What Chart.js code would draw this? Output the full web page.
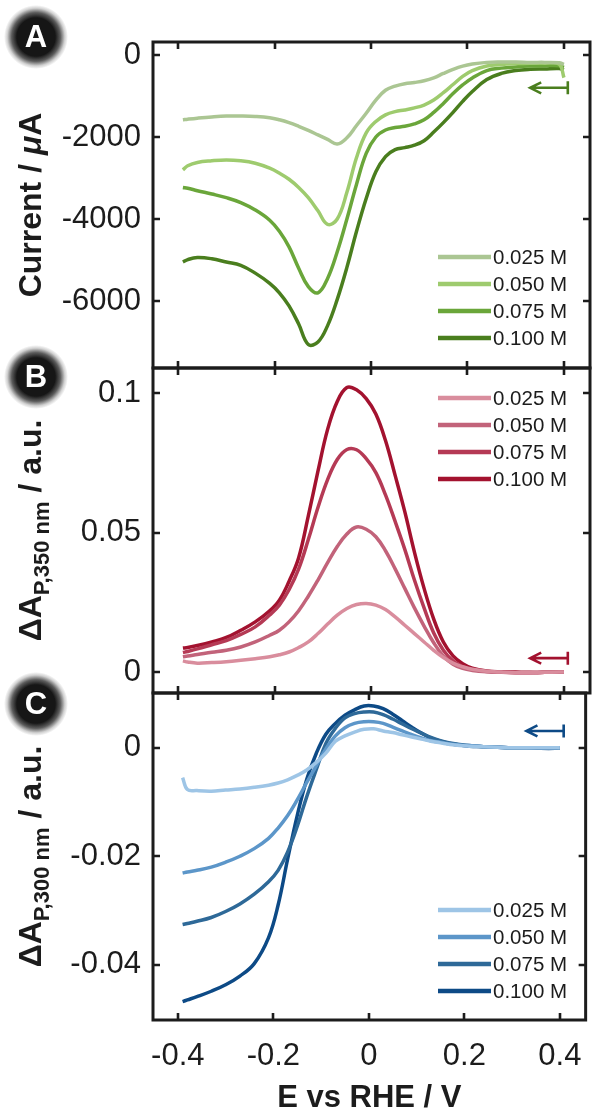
<!DOCTYPE html>
<html>
<head>
<meta charset="utf-8">
<script src="https://cdn.jsdelivr.net/npm/chart.js@4.4.1/dist/chart.umd.min.js"></script>
<style>
html,body{margin:0;padding:0;background:#fff;}
#wrap{position:relative;width:600px;height:1114px;background:#fff;overflow:hidden;}
#wrap canvas{position:absolute;left:0;top:0;}
</style>
</head>
<body>
<div id="wrap">
<canvas id="cA" width="600" height="1114"></canvas>
<canvas id="cB" width="600" height="1114"></canvas>
<canvas id="cC" width="600" height="1114"></canvas>
</div>
<script>
// ---------- data ----------
const potential = [-0.39,-0.38,-0.36,-0.33,-0.30,-0.27,-0.24,-0.21,-0.19,-0.17,-0.15,-0.13,-0.11,-0.09,-0.07,-0.05,-0.03,-0.01,0.01,0.03,0.05,0.07,0.09,0.11,0.13,0.15,0.17,0.19,0.21,0.24,0.27,0.30,0.33,0.36,0.39,0.40];
const concentrations = ['0.025 M','0.050 M','0.075 M','0.100 M'];

// Panel A: current / µA
const currentA025 = [-1580,-1565,-1540,-1510,-1490,-1490,-1500,-1530,-1580,-1650,-1740,-1840,-1950,-2060,-2170,-2020,-1720,-1420,-1100,-860,-760,-700,-670,-630,-560,-450,-350,-270,-220,-180,-170,-170,-180,-180,-190,-230];
const currentA050 = [-2800,-2700,-2620,-2580,-2560,-2580,-2640,-2760,-2880,-3030,-3230,-3480,-3800,-4130,-4000,-3350,-2500,-1900,-1620,-1460,-1380,-1340,-1290,-1220,-1100,-920,-720,-520,-380,-270,-230,-210,-200,-200,-220,-550];
const currentA075 = [-3230,-3250,-3310,-3390,-3480,-3600,-3780,-4030,-4300,-4680,-5200,-5650,-5800,-5450,-4800,-4000,-3150,-2400,-2000,-1830,-1770,-1740,-1680,-1580,-1400,-1180,-940,-730,-560,-380,-320,-290,-270,-260,-260,-300];
const currentA100 = [-5050,-4990,-4940,-4970,-5050,-5130,-5320,-5570,-5800,-6120,-6560,-7060,-7000,-6600,-5960,-5180,-4300,-3500,-2850,-2480,-2310,-2260,-2200,-2090,-1880,-1650,-1400,-1130,-890,-600,-450,-380,-350,-340,-330,-360];

// Panel B: ΔA_P,350nm / a.u.
const absB025 = [0.0040,0.0036,0.0032,0.0034,0.0037,0.0042,0.0048,0.0055,0.0062,0.0072,0.0088,0.0108,0.0138,0.0172,0.0204,0.0228,0.0242,0.0246,0.0240,0.0224,0.0198,0.0168,0.0138,0.0108,0.0078,0.0052,0.0032,0.0019,0.0010,0.0003,0.0000,-0.0002,-0.0002,-0.0001,0.0000,0.0000];
const absB050 = [0.0055,0.0058,0.0063,0.0071,0.0078,0.0090,0.0108,0.0132,0.0150,0.0180,0.0220,0.0272,0.0330,0.0392,0.0450,0.0495,0.0520,0.0512,0.0485,0.0435,0.0370,0.0300,0.0230,0.0165,0.0105,0.0057,0.0028,0.0013,0.0006,0.0001,-0.0001,-0.0002,-0.0002,-0.0001,0.0000,0.0000];
const absB075 = [0.0070,0.0074,0.0083,0.0098,0.0113,0.0135,0.0162,0.0205,0.0240,0.0295,0.0370,0.0475,0.0590,0.0690,0.0762,0.0798,0.0797,0.0765,0.0715,0.0635,0.0540,0.0440,0.0330,0.0230,0.0140,0.0078,0.0040,0.0020,0.0009,0.0002,0.0000,-0.0002,-0.0002,-0.0001,0.0000,0.0000];
const absB100 = [0.0086,0.0088,0.0095,0.0108,0.0124,0.0150,0.0180,0.0220,0.0258,0.0325,0.0410,0.0560,0.0720,0.0870,0.0970,0.1020,0.1012,0.0980,0.0925,0.0830,0.0705,0.0575,0.0430,0.0300,0.0190,0.0108,0.0058,0.0030,0.0014,0.0004,0.0001,0.0000,-0.0001,-0.0001,0.0000,0.0000];

// Panel C: ΔA_P,300nm / a.u.
const absC025 = [-0.0055,-0.0077,-0.0079,-0.0080,-0.0078,-0.0076,-0.0073,-0.0069,-0.0065,-0.0059,-0.0051,-0.0041,-0.0027,-0.0010,0.0012,0.0022,0.0029,0.0034,0.0035,0.0031,0.0028,0.0024,0.0020,0.0016,0.0012,0.0009,0.0006,0.0004,0.0003,0.0002,0.0001,0.0000,0.0000,0.0000,0.0000,0.0000];
const absC050 = [-0.0231,-0.0229,-0.0226,-0.0220,-0.0211,-0.0200,-0.0186,-0.0167,-0.0148,-0.0125,-0.0096,-0.0064,-0.0033,-0.0002,0.0022,0.0037,0.0045,0.0048,0.0048,0.0045,0.0038,0.0031,0.0024,0.0018,0.0013,0.0010,0.0007,0.0005,0.0004,0.0002,0.0001,0.0000,0.0000,0.0000,0.0000,0.0000];
const absC075 = [-0.0326,-0.0324,-0.0320,-0.0313,-0.0302,-0.0288,-0.0270,-0.0247,-0.0226,-0.0192,-0.0145,-0.0090,-0.0040,0.0008,0.0036,0.0055,0.0063,0.0066,0.0066,0.0061,0.0053,0.0044,0.0035,0.0027,0.0019,0.0013,0.0009,0.0006,0.0004,0.0002,0.0001,0.0000,0.0000,0.0000,0.0000,0.0000];
const absC100 = [-0.0468,-0.0465,-0.0459,-0.0449,-0.0437,-0.0421,-0.0398,-0.0350,-0.0290,-0.0205,-0.0125,-0.0058,-0.0010,0.0025,0.0045,0.0060,0.0070,0.0077,0.0077,0.0072,0.0062,0.0050,0.0038,0.0027,0.0018,0.0012,0.0008,0.0005,0.0003,0.0002,0.0001,0.0000,0.0000,-0.0001,-0.0001,0.0000];

// ticks
const xTicks = [-0.4,-0.2,0,0.2,0.4];
const xTickLabels = ['-0.4','-0.2','0','0.2','0.4'];
const yTicksA = [-6000,-4000,-2000,0];
const yTickLabelsA = ['-6000','-4000','-2000','0'];
const yTicksB = [0,0.05,0.1];
const yTickLabelsB = ['0','0.05','0.1'];
const yTicksC = [-0.04,-0.02,0];
const yTickLabelsC = ['-0.04','-0.02','0'];

// scan-direction arrows [from, to, y]
const arrowA = [0.33, 0.408, -800];
const arrowB = [0.33, 0.408, 0.005];
const arrowC = [0.33, 0.408, 0.0031];

// colours
const greens = ['#abc693','#9ecb6e','#6aa63a','#4a7e1e'];
const reds   = ['#d98d9d','#c2637a','#b53a55','#a3122f'];
const blues  = ['#9ec5e6','#5c96c9','#2e6998','#0d4a86'];

// ---------- plugins ----------
const FONT = '"Liberation Sans", Arial, Helvetica, sans-serif';
const INK = '#1c1c1c';

const frameTicks = {
  id: 'frameTicks',
  afterDatasetsDraw(chart) {
    const {ctx, chartArea: a, scales} = chart;
    const L = 7;
    ctx.save();
    ctx.strokeStyle = INK;
    ctx.lineWidth = 2.6;
    ctx.lineCap = 'butt';
    ctx.beginPath();
    scales.x.ticks.forEach(t => {
      const p = Math.round(scales.x.getPixelForValue(t.value));
      ctx.moveTo(p, a.top); ctx.lineTo(p, a.top + L);
      ctx.moveTo(p, a.bottom); ctx.lineTo(p, a.bottom - L);
    });
    scales.y.ticks.forEach(t => {
      const p = Math.round(scales.y.getPixelForValue(t.value));
      ctx.moveTo(a.left, p); ctx.lineTo(a.left + L, p);
      ctx.moveTo(a.right, p); ctx.lineTo(a.right - L, p);
    });
    ctx.stroke();
    ctx.lineWidth = 3;
    ctx.strokeRect(a.left, a.top, a.right - a.left, a.bottom - a.top);
    ctx.restore();
  }
};

const panelLegend = {
  id: 'panelLegend',
  afterDraw(chart, args, o) {
    const ctx = chart.ctx;
    ctx.save();
    ctx.font = '20.5px ' + FONT;
    ctx.textBaseline = 'middle';
    ctx.textAlign = 'left';
    chart.data.datasets.forEach((ds, i) => {
      const y = o.top + i * o.gap;
      ctx.strokeStyle = ds.borderColor;
      ctx.lineWidth = 4.5;
      ctx.beginPath(); ctx.moveTo(o.x0, y); ctx.lineTo(o.x1, y); ctx.stroke();
      ctx.fillStyle = INK;
      ctx.fillText(ds.label, o.x1 + 2, y + 1);
    });
    ctx.restore();
  }
};

const scanArrow = {
  id: 'scanArrow',
  afterDatasetsDraw(chart, args, o) {
    const {ctx, scales} = chart;
    const x0 = scales.x.getPixelForValue(o.arrow[0]);
    const x1 = scales.x.getPixelForValue(o.arrow[1]);
    const y = scales.y.getPixelForValue(o.arrow[2]);
    ctx.save();
    ctx.strokeStyle = o.color;
    ctx.lineWidth = 2.6;
    ctx.beginPath();
    ctx.moveTo(x0 + 1, y); ctx.lineTo(x1, y);
    ctx.moveTo(x1, y - 6.5); ctx.lineTo(x1, y + 6.5);
    ctx.moveTo(x0 + 11, y - 5.5); ctx.lineTo(x0, y); ctx.lineTo(x0 + 11, y + 5.5);
    ctx.stroke();
    ctx.restore();
  }
};

const yTitle = {
  id: 'yTitle',
  afterDraw(chart, args, o) {
    const {ctx, chartArea: a} = chart;
    const fontOf = p => (p.sub ? 'bold 22px ' : (p.it ? 'italic bold 32px ' : 'bold 32px ')) + FONT;
    let total = 0;
    o.parts.forEach(p => { ctx.font = fontOf(p); total += ctx.measureText(p.t).width; });
    ctx.save();
    ctx.translate(o.x, (a.top + a.bottom) / 2);
    ctx.rotate(-Math.PI / 2);
    ctx.fillStyle = INK;
    ctx.textBaseline = 'alphabetic';
    ctx.textAlign = 'left';
    let x = -total / 2;
    o.parts.forEach(p => {
      ctx.font = fontOf(p);
      ctx.fillText(p.t, x, p.sub ? 8 : 0);
      x += ctx.measureText(p.t).width;
    });
    ctx.restore();
  }
};

const badge = {
  id: 'badge',
  afterDraw(chart, args, o) {
    const ctx = chart.ctx;
    const {cx, cy} = o;
    ctx.save();
    const g = ctx.createRadialGradient(cx, cy, 0, cx, cy, 32);
    g.addColorStop(0, 'rgba(22,22,22,1)');
    g.addColorStop(0.6, 'rgba(22,22,22,1)');
    g.addColorStop(0.76, 'rgba(22,22,22,0.7)');
    g.addColorStop(0.9, 'rgba(22,22,22,0.2)');
    g.addColorStop(1, 'rgba(22,22,22,0)');
    ctx.fillStyle = g;
    ctx.beginPath(); ctx.arc(cx, cy, 32, 0, Math.PI * 2); ctx.fill();
    ctx.fillStyle = '#ffffff';
    ctx.font = 'bold 31px ' + FONT;
    ctx.textAlign = 'center';
    ctx.textBaseline = 'middle';
    ctx.fillText(o.letter, cx, cy + 1);
    ctx.restore();
  }
};

// ---------- panel factory ----------
function panel(id, p) {
  const datasets = p.series.map((s, i) => ({
    label: concentrations[i],
    data: s.map((v, k) => ({x: potential[k], y: v})),
    borderColor: p.colors[i],
    borderWidth: 3.5,
    pointRadius: 0,
    fill: false,
    tension: 0.4
  }));
  const tickFont = {family: FONT, size: 31};
  return new Chart(document.getElementById(id), {
    type: 'line',
    data: {datasets},
    plugins: [frameTicks, scanArrow, panelLegend, yTitle, badge],
    options: {
      responsive: false,
      animation: false,
      events: [],
      layout: {padding: p.padding},
      scales: {
        x: {
          type: 'linear',
          min: -0.452, max: 0.454,
          afterBuildTicks: s => { s.ticks = xTicks.map(v => ({value: v})); },
          grid: {display: false, drawTicks: false},
          border: {display: false},
          ticks: {
            display: p.showX,
            font: tickFont, color: INK, padding: 18, maxRotation: 0,
            callback: (v, i) => xTickLabels[i]
          },
          title: {
            display: p.showX, text: 'E vs RHE / V', color: INK,
            font: {family: FONT, size: 31, weight: 'bold', lineHeight: 1},
            padding: {top: 0, bottom: 0}
          },
          afterFit: s => { s.height = p.showX ? 94 : 0; }
        },
        y: {
          type: 'linear',
          min: p.yMin, max: p.yMax,
          afterBuildTicks: s => { s.ticks = p.yTicks.map(v => ({value: v})); },
          grid: {display: false, drawTicks: false},
          border: {display: false},
          ticks: {
            font: tickFont, color: INK, padding: 12,
            callback: (v, i) => p.yLabels[i]
          },
          afterFit: s => { s.width = 153; }
        }
      },
      plugins: {
        legend: {display: false},
        tooltip: {enabled: false},
        panelLegend: {top: p.legendTop, gap: 27, x0: 438, x1: 491},
        scanArrow: {arrow: p.arrow, color: p.colors[3]},
        yTitle: {x: 41, parts: p.title},
        badge: {letter: p.letter, cx: 36, cy: p.badgeY}
      }
    }
  });
}

panel('cA', {
  series: [currentA025, currentA050, currentA075, currentA100],
  colors: greens,
  padding: {left: 0, right: 10, top: 42, bottom: 746},
  yMin: -7634, yMax: 317,
  yTicks: yTicksA, yLabels: yTickLabelsA,
  showX: false,
  legendTop: 257,
  arrow: arrowA,
  title: [{t: 'Current / '}, {t: '\u03bc', it: true}, {t: 'A'}],
  letter: 'A', badgeY: 37
});

panel('cB', {
  series: [absB025, absB050, absB075, absB100],
  colors: reds,
  padding: {left: 0, right: 10, top: 368, bottom: 421},
  yMin: -0.0075, yMax: 0.109,
  yTicks: yTicksB, yLabels: yTickLabelsB,
  showX: false,
  legendTop: 398,
  arrow: arrowB,
  title: [{t: '\u0394A'}, {t: 'P,350 nm', sub: true}, {t: ' / a.u.'}],
  letter: 'B', badgeY: 377
});

panel('cC', {
  series: [absC025, absC050, absC075, absC100],
  colors: blues,
  padding: {left: 0, right: 10, top: 693, bottom: 0},
  yMin: -0.0502, yMax: 0.0101,
  yTicks: yTicksC, yLabels: yTickLabelsC,
  showX: true,
  legendTop: 910,
  arrow: arrowC,
  title: [{t: '\u0394A'}, {t: 'P,300 nm', sub: true}, {t: ' / a.u.'}],
  letter: 'C', badgeY: 704
});
</script>
</body>
</html>
